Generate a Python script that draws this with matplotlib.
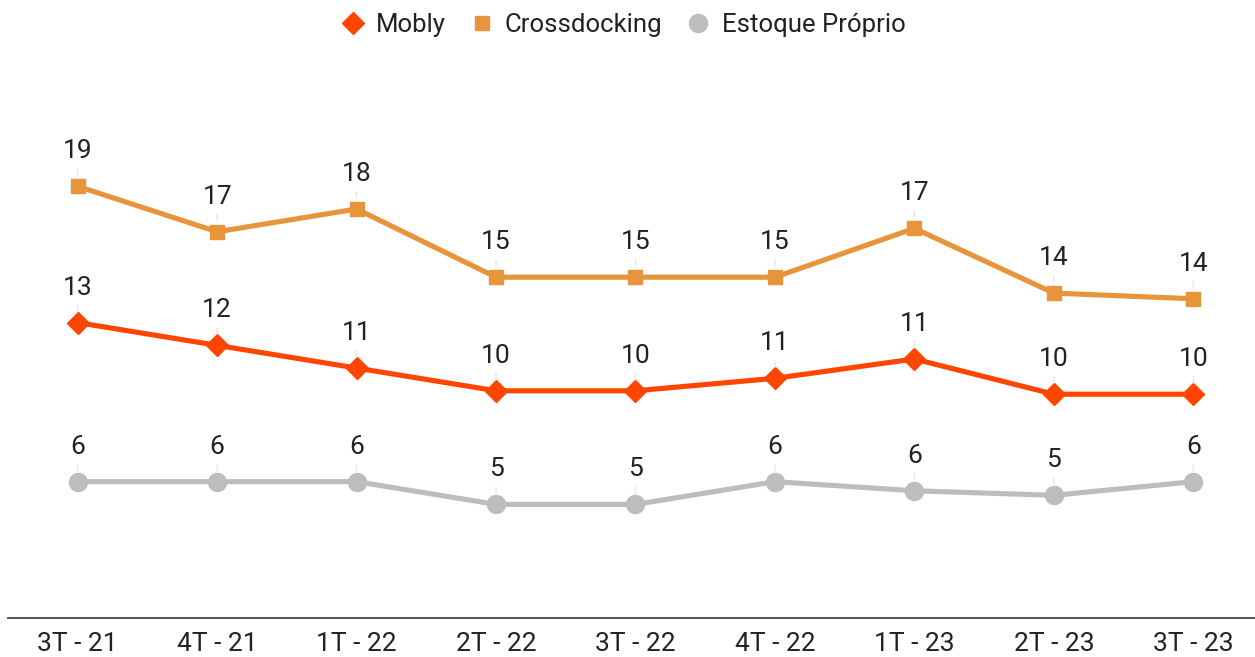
import matplotlib.pyplot as plt

plt.rcParams['font.family'] = ['Roboto', 'DejaVu Sans']

quarters = ['3T - 21', '4T - 21', '1T - 22', '2T - 22', '3T - 22',
            '4T - 22', '1T - 23', '2T - 23', '3T - 23']
mobly = [13.0, 12.0, 11.0, 10.0, 10.0, 10.55, 11.4, 9.85, 9.85]
crossdocking = [19.0, 17.0, 18.0, 15.0, 15.0, 15.0, 17.15, 14.3, 14.05]
estoque = [6.0, 6.0, 6.0, 5.0, 5.0, 6.0, 5.6, 5.4, 6.0]

series = [
    ('Mobly', mobly, '#ff4500', 'D', 11),
    ('Crossdocking', crossdocking, '#e8943a', 's', 10),
    ('Estoque Próprio', estoque, '#bdbdbd', 'o', 13),
]

fig = plt.figure(figsize=(12.55, 6.57), dpi=100)
# plot band runs a little past the right edge, as in the reference
ax = fig.add_axes([8 / 1255, 39 / 657, 1255 / 1255, 1 - 89 / 657])

x = range(len(quarters))
for name, vals, color, marker, ms in series:
    ax.plot(x, vals, color=color, lw=3.7, marker=marker, ms=ms,
            label=name, solid_joinstyle='round', zorder=3)
    for xi, v in zip(x, vals):
        ax.annotate(f'{round(v):d}', (xi, v), xytext=(0, 28),
                    textcoords='offset pixels', ha='center', va='baseline',
                    fontsize=19, color='#222222',
                    arrowprops=dict(arrowstyle='-', color='#e6e6e6', lw=1,
                                    shrinkA=2, shrinkB=8))

ax.set_xlim(-0.5, len(quarters) - 0.5)
ax.set_ylim(0, 25)
ax.set_xticks(list(x))
ax.set_xticklabels(quarters, fontsize=19, color='#222222')
ax.tick_params(axis='x', length=0, pad=10)
ax.set_yticks([])
for s in ['top', 'right', 'left']:
    ax.spines[s].set_visible(False)
ax.spines['bottom'].set_color('#444444')
ax.spines['bottom'].set_linewidth(1.3)

leg = fig.legend(loc='upper center', bbox_to_anchor=(0.4976, 1.015), ncol=3,
                 frameon=False, fontsize=18.5, handlelength=0.7,
                 handletextpad=0.55, columnspacing=1.05,
                 labelcolor='#222222')
for h in leg.legend_handles:
    h.set_linestyle('')

fig.savefig('out.png', dpi=100)
